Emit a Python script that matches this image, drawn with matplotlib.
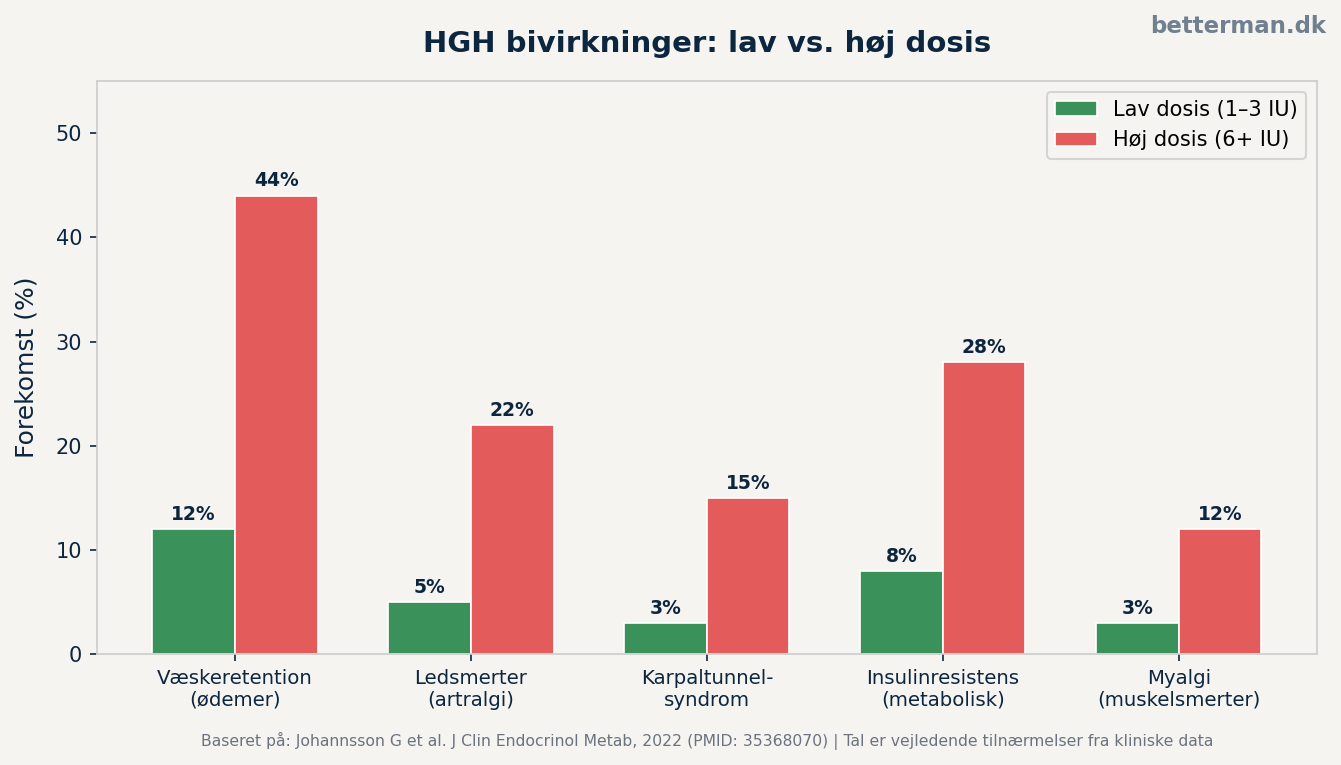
import numpy as np
import matplotlib.pyplot as plt

categories = ["Væskeretention\n(ødemer)", "Ledsmerter\n(artralgi)", "Karpaltunnel-\nsyndrom",
              "Insulinresistens\n(metabolisk)", "Myalgi\n(muskelsmerter)"]
low_dose = [12, 5, 3, 8, 3]
high_dose = [44, 22, 15, 28, 12]

BG = "#F5F4F0"
NAVY = "#0D2640"
GREEN = "#3A9159"
RED = "#E35B5B"

fig = plt.figure(figsize=(8.94, 5.1), dpi=150, facecolor=BG)
ax = fig.add_axes([0.0723, 0.145, 0.9097, 0.749])
ax.set_facecolor(BG)

x = np.arange(len(categories))
w = 0.35
b1 = ax.bar(x - w / 2, low_dose, w, color=GREEN, edgecolor="white", linewidth=0.8,
            label="Lav dosis (1–3 IU)")
b2 = ax.bar(x + w / 2, high_dose, w, color=RED, edgecolor="white", linewidth=0.8,
            label="Høj dosis (6+ IU)")

for bars in (b1, b2):
    for bar in bars:
        h = bar.get_height()
        ax.text(bar.get_x() + bar.get_width() / 2, h + 0.5, f"{h:.0f}%",
                ha="center", va="bottom", fontsize=9, fontweight="bold", color=NAVY)

ax.set_ylim(0, 55)
ax.set_xticks(x)
ax.set_xticklabels(categories, fontsize=9.5, color=NAVY)
ax.tick_params(axis="y", labelsize=10, colors=NAVY)
ax.tick_params(axis="x", colors=NAVY)
ax.set_ylabel("Forekomst (%)", fontsize=12, color=NAVY, labelpad=8.5)
for s in ax.spines.values():
    s.set_color("#CCCCCC")

ax.set_title("HGH bivirkninger: lav vs. høj dosis", fontsize=14, fontweight="bold",
             color=NAVY, pad=14)
ax.legend(loc="upper right", fontsize=10, facecolor=BG, edgecolor="#CCCCCC")

fig.text(0.989, 0.966, "betterman.dk", ha="right", va="center", fontsize=11,
         fontweight="bold", color="#708090")
fig.text(0.527, 0.031, "Baseret på: Johannsson G et al. J Clin Endocrinol Metab, 2022 (PMID: 35368070) | "
         "Tal er vejledende tilnærmelser fra kliniske data",
         ha="center", va="center", fontsize=7.5, color="#6B7280")

fig.savefig("out.png", dpi=150, facecolor=BG)
